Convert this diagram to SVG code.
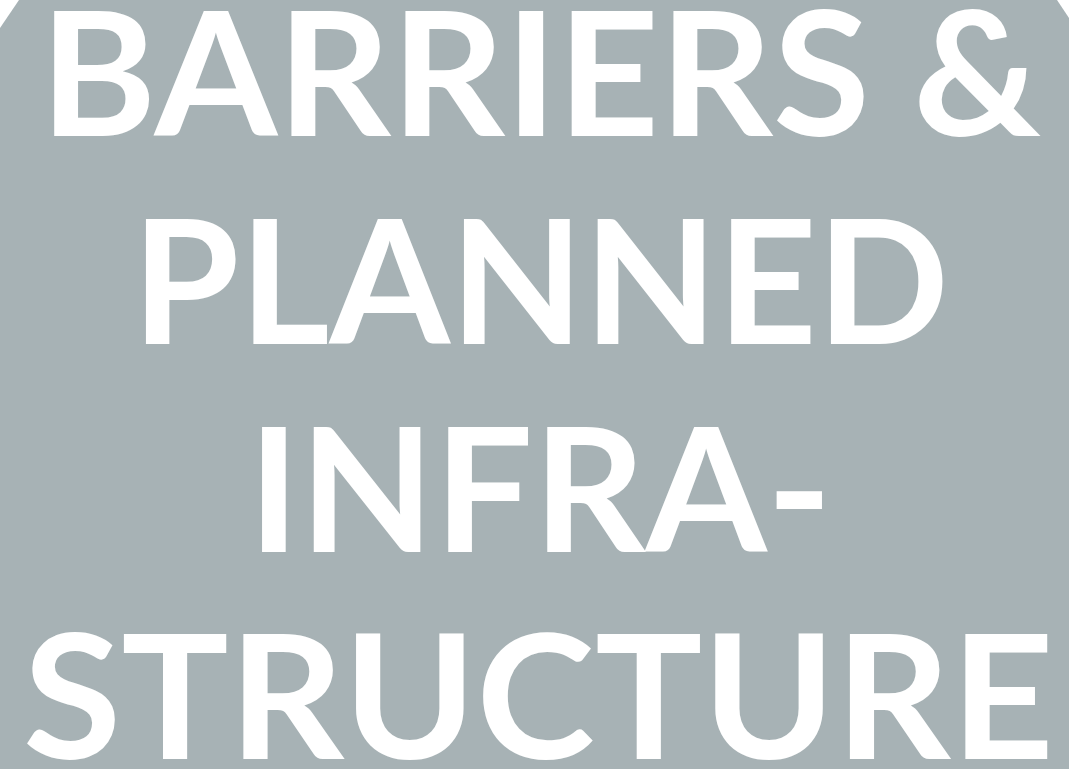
<svg xmlns="http://www.w3.org/2000/svg" width="1069" height="769" viewBox="0 0 1069 769">
  <style>
    .t { font-family: Lato, "Open Sans", "Liberation Sans", sans-serif; font-weight: 700; font-size: 172px; fill: #ffffff; }
  </style>
  <rect x="0" y="0" width="1069" height="769" fill="#ffffff"/>
  <g id="panel">
    <polygon points="19,0 1057,0 1069,18 1069,769 0,769 0,28" fill="#a7b2b5"/>
  </g>
  <g id="title">
    <text class="t" x="40" y="136" textLength="1001" lengthAdjust="spacingAndGlyphs">BARRIERS &amp;</text>
    <text class="t" x="132" y="344" textLength="817" lengthAdjust="spacingAndGlyphs">PLANNED</text>
    <text class="t" x="248" y="552" textLength="584" lengthAdjust="spacingAndGlyphs">INFRA-</text>
    <text class="t" x="23" y="759" textLength="1031" lengthAdjust="spacingAndGlyphs">STRUCTURE</text>
  </g>
</svg>
